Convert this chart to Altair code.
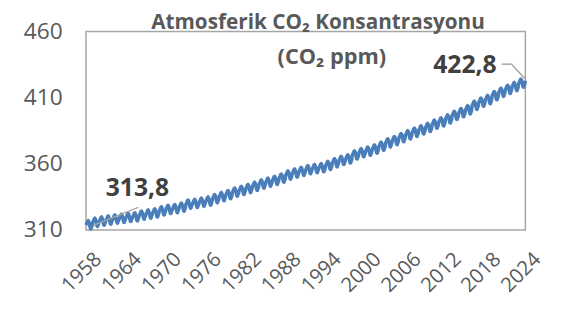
import altair as alt
import pandas as pd

# Annual mean CO2 (ppm), 1958-2023
years = list(range(1958, 2024))
annual_mean = [
    314.1, 315.98, 316.91, 317.64, 318.45, 318.99, 319.62, 320.04, 321.37, 322.18,
    323.05, 324.62, 325.68, 326.32, 327.46, 329.68, 330.19, 331.13, 332.03, 333.84,
    335.41, 336.84, 338.76, 340.12, 341.48, 343.15, 344.87, 346.35, 347.61, 349.31,
    351.69, 353.20, 354.45, 355.70, 356.54, 357.21, 358.96, 360.97, 362.74, 363.88,
    366.84, 368.54, 369.71, 371.32, 373.45, 375.98, 377.70, 379.98, 382.09, 384.02,
    385.83, 387.64, 390.10, 391.85, 394.06, 396.74, 398.81, 401.01, 404.41, 406.76,
    408.72, 411.66, 414.24, 416.45, 418.56, 421.08,
]
# Seasonal offsets by month (Jan..Dec), ppm
seasonal = [-0.3, 0.65, 1.4, 2.6, 3.0, 2.3, 0.8, -1.3, -3.0, -3.2, -1.9, -0.9]
# Final point: January 2024
last_time = 2024.0
last_value = 422.8

tick_years = list(range(1958, 2025, 6))
y_ticks = [310, 360, 410, 460]

rows = []
for yr, m_val in zip(years, annual_mean):
    for mi, off in enumerate(seasonal):
        rows.append({"t": yr + mi / 12.0, "co2": round(m_val + off, 2)})
rows.append({"t": last_time, "co2": last_value})
df = pd.DataFrame(rows)

first_label = f"{df['co2'].iloc[0]:.1f}".replace(".", ",")
last_label = f"{df['co2'].iloc[-1]:.1f}".replace(".", ",")

FONT = "Open Sans"
GRAY = "#595959"

base = alt.Chart(df)

line = base.mark_line(color="#4A7EBB", strokeWidth=3.5, strokeJoin="round").encode(
    x=alt.X("t:Q", scale=alt.Scale(domain=[1958, 2024], nice=False, zero=False),
            axis=alt.Axis(values=tick_years, format="d", labelAngle=-45, labelAlign="right",
                          labelBaseline="top", labelPadding=19, labelOffset=5, tickSize=0,
                          domain=False, grid=False, ticks=False, labelOverlap=False,
                          labelFontSize=20.5, labelColor=GRAY, labelFont=FONT, title=None)),
    y=alt.Y("co2:Q", scale=alt.Scale(domain=[310, 460], nice=False, zero=False),
            axis=alt.Axis(values=y_ticks, tickSize=0, ticks=False, domain=False, grid=False,
                          labelPadding=24, labelFontSize=23, labelColor=GRAY, labelFont=FONT,
                          title=None)),
)

title1 = alt.Chart(pd.DataFrame({"s": ["Atmosferik CO\u2082 Konsantrasyonu"]})).mark_text(
    font=FONT, fontSize=21, fontWeight="bold", color=GRAY, align="center", baseline="top"
).encode(x=alt.value(235), y=alt.value(-20), text="s:N")

title2 = alt.Chart(pd.DataFrame({"s": ["(CO\u2082 ppm)"]})).mark_text(
    font=FONT, fontSize=22, fontWeight="bold", color=GRAY, align="center", baseline="alphabetic"
).encode(x=alt.value(249), y=alt.value(33), text="s:N")

lab_first = alt.Chart(pd.DataFrame({"s": [first_label]})).mark_text(
    font=FONT, fontSize=25, fontWeight="bold", color="#404040", align="left", baseline="alphabetic"
).encode(x=alt.value(20), y=alt.value(167), text="s:N")

lab_last = alt.Chart(pd.DataFrame({"s": [last_label]})).mark_text(
    font=FONT, fontSize=25, fontWeight="bold", color="#404040", align="right", baseline="alphabetic"
).encode(x=alt.value(416), y=alt.value(42), text="s:N")

lead1 = alt.Chart(pd.DataFrame({"a": [0]})).mark_rule(color="#A6A6A6", strokeWidth=1.5).encode(
    x=alt.value(8), y=alt.value(196), x2=alt.value(53), y2=alt.value(178))
lead2a = alt.Chart(pd.DataFrame({"a": [0]})).mark_rule(color="#A6A6A6", strokeWidth=1.5).encode(
    x=alt.value(421), y=alt.value(33), x2=alt.value(431), y2=alt.value(33))
lead2b = alt.Chart(pd.DataFrame({"a": [0]})).mark_rule(color="#A6A6A6", strokeWidth=1.5).encode(
    x=alt.value(431), y=alt.value(33), x2=alt.value(445), y2=alt.value(48))

chart = alt.layer(line, lead1, lead2a, lead2b, lab_first, lab_last, title1, title2).properties(
    width=445, height=201, autosize="none",
    padding={"left": 79, "top": 22, "right": 28, "bottom": 70},
).configure_view(stroke="#A6A6A6", strokeWidth=1.5)

chart.save("out.html", embed_options={"renderer": "svg", "actions": False})
